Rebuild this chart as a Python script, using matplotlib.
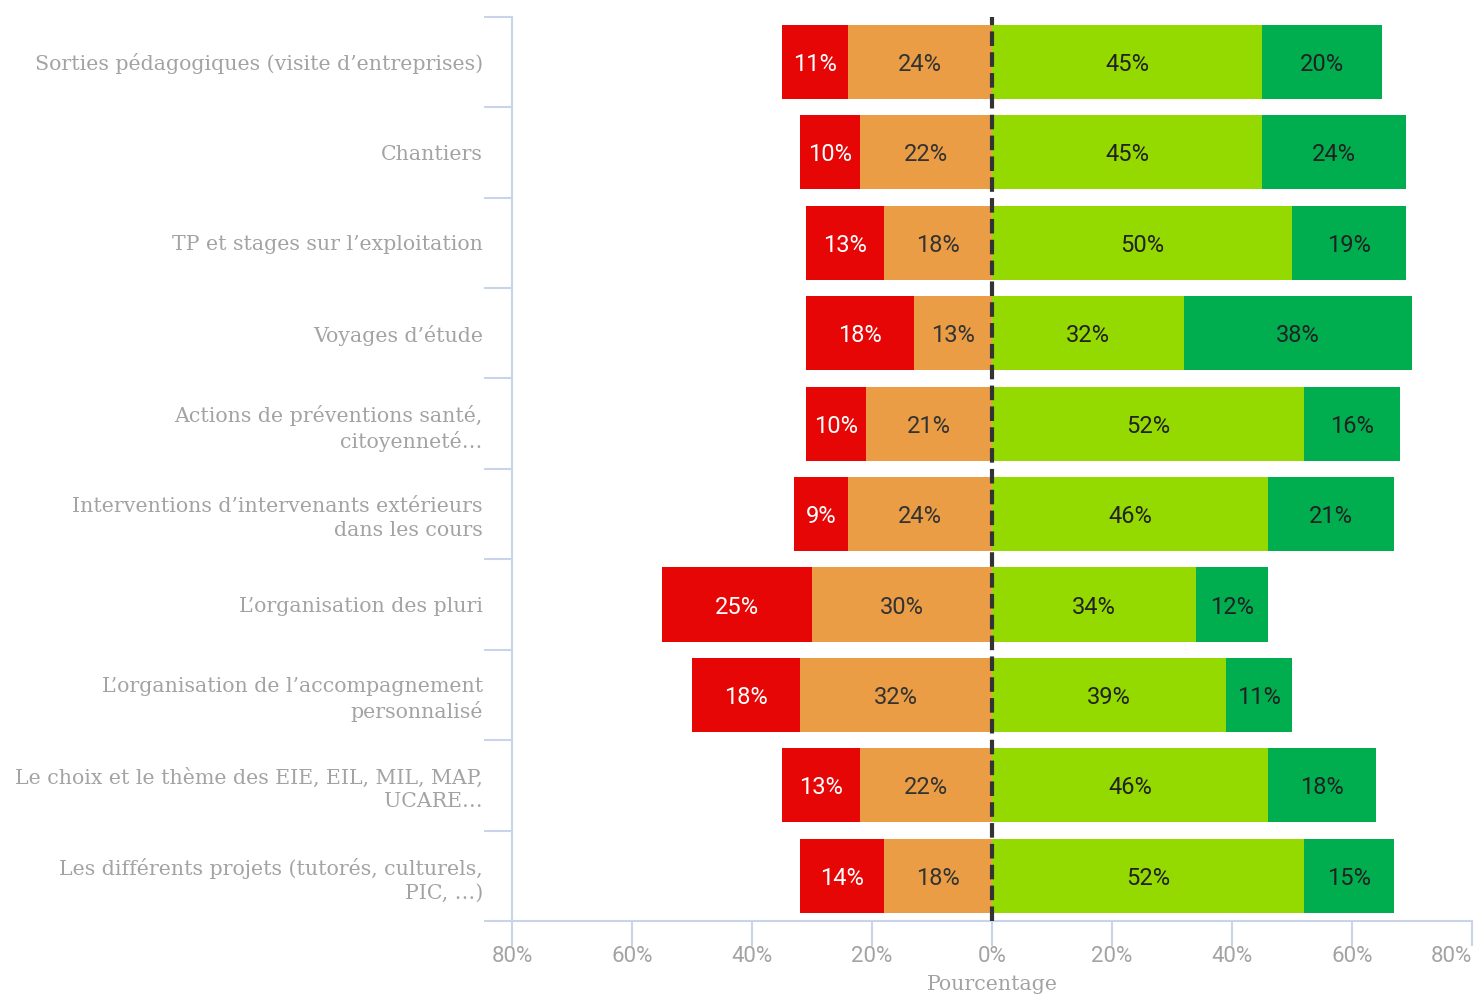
import numpy as np
import matplotlib.pyplot as plt

# categories (top to bottom)
categories = [
    "Sorties pédagogiques (visite d\u2019entreprises)",
    "Chantiers",
    "TP et stages sur l\u2019exploitation",
    "Voyages d\u2019étude",
    "Actions de préventions santé,\ncitoyenneté\u2026",
    "Interventions d\u2019intervenants extérieurs\ndans les cours",
    "L\u2019organisation des pluri",
    "L\u2019organisation de l\u2019accompagnement\npersonnalisé",
    "Le choix et le thème des EIE, EIL, MIL, MAP,\nUCARE\u2026",
    "Les différents projets (tutorés, culturels,\nPIC, \u2026)",
]
# percentages
tres_negatif = [11, 10, 13, 18, 10, 9, 25, 18, 13, 14]
negatif = [24, 22, 18, 13, 21, 24, 30, 32, 22, 18]
positif = [45, 45, 50, 32, 52, 46, 34, 39, 46, 52]
tres_positif = [20, 24, 19, 38, 16, 21, 12, 11, 18, 15]

xticks = [-80, -60, -40, -20, 0, 20, 40, 60, 80]

c_red = '#e60606'
c_orange = '#ea9d45'
c_lgreen = '#94da00'
c_dgreen = '#00ae4f'
c_axis = '#c9d3ea'
c_text = '#a3a3a3'

fig = plt.figure(figsize=(14.79, 9.97), dpi=100)
ax = fig.add_axes([0.3462, 0.0762, 0.6491, 0.907])

y = np.arange(len(categories))
h = 0.82
neg = np.array(negatif)
tneg = np.array(tres_negatif)
pos = np.array(positif)
tpos = np.array(tres_positif)

ax.barh(y, -neg, height=h, color=c_orange, zorder=2)
ax.barh(y, -tneg, left=-neg, height=h, color=c_red, zorder=2)
ax.barh(y, pos, height=h, color=c_lgreen, zorder=2)
ax.barh(y, tpos, left=pos, height=h, color=c_dgreen, zorder=2)

lab_font = dict(family='Roboto', fontsize=17, ha='center', va='center_baseline', zorder=4)
for i in range(len(categories)):
    ax.text(-neg[i] - tneg[i] / 2, y[i], f"{tneg[i]}%", color='white', **lab_font)
    ax.text(-neg[i] / 2, y[i], f"{neg[i]}%", color='#333333', **lab_font)
    ax.text(pos[i] / 2, y[i], f"{pos[i]}%", color='#222222', **lab_font)
    ax.text(pos[i] + tpos[i] / 2, y[i], f"{tpos[i]}%", color='#222222', **lab_font)

ax.axvline(0, color='#333333', lw=3, ls=(0, (3.5, 1.5)), zorder=5)

ax.set_xlim(-80, 80)
ax.set_ylim(len(categories) - 0.5, -0.5)
ax.set_xticks(xticks)
ax.set_xticklabels([f"{abs(t)}%" for t in xticks], family='Roboto',
                   fontsize=16, color=c_text)
ax.get_xticklabels()[-1].set_ha('right')
ax.set_yticks(y)
ax.set_yticklabels(categories, family='DejaVu Serif', fontsize=14.8, color=c_text, linespacing=1.3)
ax.set_yticks(np.arange(len(categories) + 1) - 0.5, minor=True)
ax.tick_params(axis='y', which='major', length=0, pad=21)
ax.tick_params(axis='y', which='minor', length=20, width=1.5, color=c_axis)
ax.tick_params(axis='x', length=18, width=1.5, color=c_axis, pad=0)

for s in ['top', 'right']:
    ax.spines[s].set_visible(False)
for s in ['left', 'bottom']:
    ax.spines[s].set_color(c_axis)
    ax.spines[s].set_linewidth(1.5)

ax.set_xlabel("Pourcentage", family='DejaVu Serif', fontsize=14.8, color=c_text, labelpad=6)

fig.savefig('out.png', dpi=100)
